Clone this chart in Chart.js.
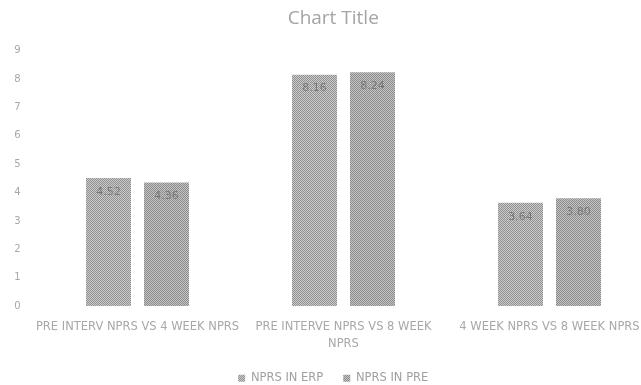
<!DOCTYPE html>
<html>
<head>
<meta charset="utf-8">
<script src="https://cdn.jsdelivr.net/npm/chart.js@4/dist/chart.umd.min.js"></script>
<style>
  html, body { margin: 0; padding: 0; background: #fff; overflow: hidden; }
  #wrap { width: 670px; height: 394px; }
</style>
</head>
<body>
<div id="wrap"><canvas id="chart"></canvas></div>
<script>
// categories and values
const categories = [
  "PRE INTERV NPRS VS 4 WEEK NPRS",
  ["PRE INTERVE NPRS VS 8 WEEK", "NPRS"],
  "4 WEEK NPRS VS 8 WEEK NPRS"
];
const seriesNames = ["NPRS IN ERP", "NPRS IN PRE"];
const erpValues = [4.52, 8.16, 3.64];
const preValues = [4.36, 8.24, 3.80];
const yTicks = [0, 1, 2, 3, 4, 5, 6, 7, 8, 9];

// dithered grey fill, like the reference
function makePattern(a, b) {
  const c = document.createElement("canvas");
  c.width = 2; c.height = 2;
  const g = c.getContext("2d");
  g.fillStyle = a; g.fillRect(0, 0, 2, 2);
  g.fillStyle = b; g.fillRect(0, 0, 1, 1); g.fillRect(1, 1, 1, 1);
  return g.createPattern(c, "repeat");
}
const fill1 = makePattern("#cccccc", "#909090");
const fill2 = makePattern("#c4c4c4", "#8c8c8c");

// simple label plugin: value written inside the top of each bar
const barLabels = {
  id: "barLabels",
  afterDatasetsDraw(chart) {
    const ctx = chart.ctx;
    ctx.save();
    ctx.font = "11px 'DejaVu Sans'";
    ctx.fillStyle = "#787878";
    ctx.textAlign = "center";
    ctx.textBaseline = "middle";
    chart.data.datasets.forEach((ds, i) => {
      chart.getDatasetMeta(i).data.forEach((bar, j) => {
        ctx.fillText(ds.data[j].toFixed(2), bar.x, bar.y + 14);
      });
    });
    ctx.restore();
  }
};

const axisFont = { family: "'DejaVu Sans'", size: 11.5, lineHeight: 1.45 };

new Chart(document.getElementById("chart"), {
  type: "bar",
  plugins: [barLabels],
  data: {
    labels: categories,
    datasets: [
      { label: seriesNames[0], data: erpValues, backgroundColor: fill1,
        categoryPercentage: 0.563, barPercentage: 0.776 },
      { label: seriesNames[1], data: preValues, backgroundColor: fill2,
        categoryPercentage: 0.563, barPercentage: 0.776 }
    ]
  },
  options: {
    responsive: true,
    maintainAspectRatio: false,
    animation: false,
    layout: { padding: { left: 14, right: 17.5, top: 7, bottom: 0 } },
    plugins: {
      tooltip: { enabled: false },
      title: {
        display: true,
        text: "Chart Title",
        color: "#a4a4a4",
        font: { family: "'Open Sans'", size: 19, weight: "normal", lineHeight: 1.2 },
        padding: { top: 0, bottom: 21 }
      },
      legend: {
        position: "bottom",
        labels: {
          color: "#a0a0a0",
          font: { family: "'DejaVu Sans'", size: 11.5 },
          boxWidth: 7, boxHeight: 7, padding: 20
        }
      }
    },
    scales: {
      x: {
        grid: { display: false, drawTicks: false },
        border: { display: false },
        ticks: {
          color: "#a8a8a8",
          font: axisFont,
          maxRotation: 0, autoSkip: false, padding: 13
        },
        afterFit(axis) {
          axis.paddingLeft = 0;
          axis.paddingRight = 0;
          axis.height = 46.4;
        }
      },
      y: {
        min: 0, max: 9,
        afterBuildTicks(axis) { axis.ticks = yTicks.map(v => ({ value: v })); },
        afterFit(axis) { axis.width = 20.5; },
        grid: { display: false, drawTicks: false },
        border: { display: false },
        ticks: {
          color: "#a8a8a8",
          font: { family: "'DejaVu Sans'", size: 10 },
          padding: 14
        }
      }
    }
  }
});
</script>
</body>
</html>
